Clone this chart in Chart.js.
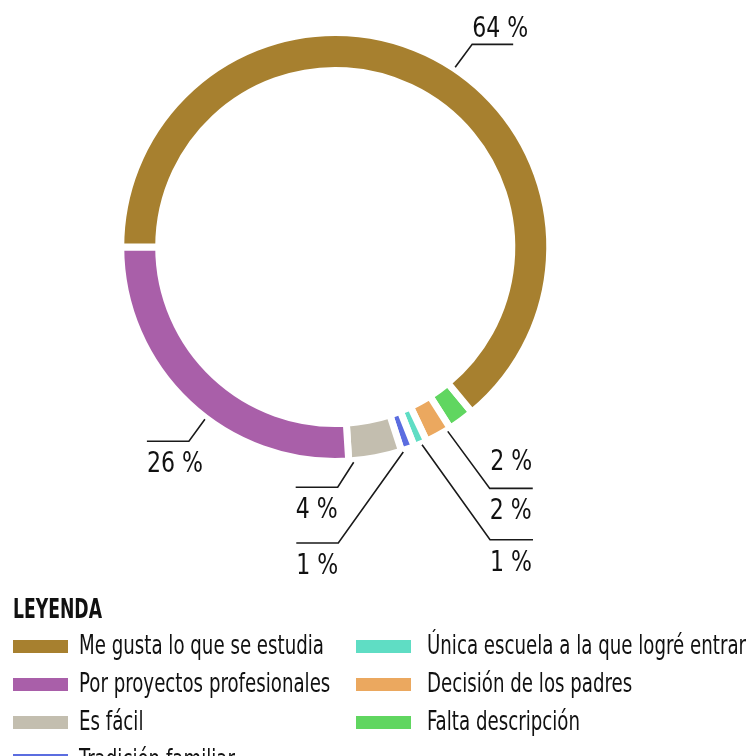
<!DOCTYPE html>
<html>
<head>
<meta charset="utf-8">
<script src="https://cdn.jsdelivr.net/npm/chart.js@4.4.1/dist/chart.umd.min.js"></script>
<style>
  html, body { margin: 0; padding: 0; background: #fff; }
  body { width: 755px; height: 756px; position: relative; overflow: hidden;
         font-family: "Liberation Sans Narrow", "DejaVu Sans Condensed", sans-serif; color: #111; }
  #wrap { position: absolute; left: 0; top: 0; width: 755px; height: 756px; }
  #legend { position: absolute; left: 0; top: 0; width: 755px; height: 756px; pointer-events: none; }
  .ttl { position: absolute; left: 13px; font-weight: bold; font-size: 26px; line-height: 26px; top: 596px;
         transform-origin: 0 50%; white-space: nowrap; }
  .sw { position: absolute; width: 55px; height: 13px; }
  .lt { position: absolute; font-size: 27px; line-height: 30px; white-space: nowrap;
        transform-origin: 0 50%; }
</style>
</head>
<body>
<div id="wrap"><canvas id="c" width="755" height="756"></canvas></div>
<div id="legend"></div>
<script>
// ---- data (legend order) ----
const categories = [
  'Me gusta lo que se estudia',
  'Por proyectos profesionales',
  'Es fácil',
  'Tradición familiar',
  'Única escuela a la que logré entrar',
  'Decisión de los padres',
  'Falta descripción'
];
const values = [64, 26, 4, 1, 1, 2, 2];
const colors = ['#A7802F', '#A95FA9', '#C3BEAF', '#5B6DE0', '#5FDDC4', '#EBA85F', '#60D660'];
const legendTitle = 'LEYENDA';

// ---- label annotation styles (per category index) ----
const labelStyles = [
  { frac: 0.537, elbow: [17, -23], h: 41, place: 'above' },
  { frac: 0.435, elbow: [-16, 22], h: -42, place: 'below' },
  { frac: 0.91,  elbow: [-16, 25], h: -42, place: 'below' },
  { frac: 0.9,   elbow: [-65, 91], h: -42, place: 'below' },
  { frac: 0.42,  elbow: [68, 95],  h: 43, place: 'below' },
  { frac: 0.14,  elbow: [42, 57],  h: 43, place: 'below' },
  { frac: 0.5,   elbow: null, text: [28, 48] }
];

// drawing order: the ring is laid out counter-clockwise in the original, so reverse
const order = categories.map((_, i) => i).reverse();
const total = values.reduce((a, b) => a + b, 0);
const startDeg = 180 - 360 * (total - values[0]) / total;   // first drawn arc start (canvas degrees)
const rotation = startDeg + 90;
const GAP = 7;

const LABEL_FONT = '28px "Liberation Sans Narrow", "DejaVu Sans Condensed", sans-serif';
const LABEL_SX = 0.875;

const labelPlugin = {
  id: 'pctLabels',
  afterDatasetsDraw(chart) {
    const ctx = chart.ctx;
    const meta = chart.getDatasetMeta(0);
    ctx.save();
    ctx.strokeStyle = '#1a1a1a';
    ctx.lineWidth = 1.6;
    ctx.fillStyle = '#111';
    ctx.font = LABEL_FONT;
    ctx.textAlign = 'left';
    ctx.textBaseline = 'alphabetic';
    const drawText = (s, x, y) => {
      ctx.save();
      ctx.translate(x, y);
      ctx.scale(LABEL_SX, 1);
      ctx.fillText(s, 0, 0);
      ctx.restore();
    };
    meta.data.forEach((arc, k) => {
      const idx = order[k];
      const st = labelStyles[idx];
      const p = arc.getProps(['x', 'y', 'startAngle', 'endAngle', 'outerRadius'], true);
      const a = p.startAngle + st.frac * (p.endAngle - p.startAngle);
      const r = p.outerRadius - GAP / 2 + 5;
      const ax = p.x + r * Math.cos(a), ay = p.y + r * Math.sin(a);
      const txt = values[idx] + ' %';
      if (!st.elbow) {
        drawText(txt, ax + st.text[0], ay + st.text[1]);
        return;
      }
      const ex = ax + st.elbow[0], ey = ay + st.elbow[1];
      const hx = ex + st.h;
      ctx.beginPath();
      ctx.moveTo(ax, ay);
      ctx.lineTo(ex, ey);
      ctx.lineTo(hx, ey);
      ctx.stroke();
      const tx = Math.min(ex, hx);
      const ty = st.place === 'above' ? ey - 7 : ey + 31;
      drawText(txt, tx, ty);
    });
    ctx.restore();
  }
};

new Chart(document.getElementById('c'), {
  type: 'doughnut',
  data: {
    labels: order.map(i => categories[i]),
    datasets: [{
      data: order.map(i => values[i]),
      backgroundColor: order.map(i => colors[i]),
      borderColor: '#ffffff',
      borderWidth: GAP,
      hoverBorderWidth: GAP
    }]
  },
  options: {
    responsive: false,
    animation: false,
    rotation: rotation,
    radius: 214.5,
    cutout: '82.3%',
    layout: { padding: { left: 124, right: 208.5, top: 36, bottom: 298 } },
    plugins: { legend: { display: false }, tooltip: { enabled: false } }
  },
  plugins: [labelPlugin]
});

// ---- HTML legend ----
const lg = document.getElementById('legend');
const t = document.createElement('div');
t.className = 'ttl';
t.textContent = legendTitle;
lg.appendChild(t);
const texts = [];
categories.forEach((c, i) => {
  const col = i < 4 ? 0 : 1;
  const row = i < 4 ? i : i - 4;
  const sx = col === 0 ? 13 : 356;
  const tx = col === 0 ? 79 : 427;
  const cy = 646 + row * 38;
  const sw = document.createElement('div');
  sw.className = 'sw';
  sw.style.left = sx + 'px';
  sw.style.top = (cy - 6.5) + 'px';
  sw.style.background = colors[i];
  lg.appendChild(sw);
  const tl = document.createElement('div');
  tl.className = 'lt';
  tl.style.left = tx + 'px';
  tl.style.top = (cy - 16) + 'px';
  tl.textContent = c;
  lg.appendChild(tl);
  texts.push(tl);
});
// squeeze text horizontally to imitate the condensed typeface of the original
const legendSX = 245 / texts[0].getBoundingClientRect().width;
texts.forEach(el => { el.style.transform = 'scaleX(' + legendSX + ')'; });
t.style.transform = 'scaleX(' + (89 / t.getBoundingClientRect().width) + ')';
</script>
</body>
</html>
